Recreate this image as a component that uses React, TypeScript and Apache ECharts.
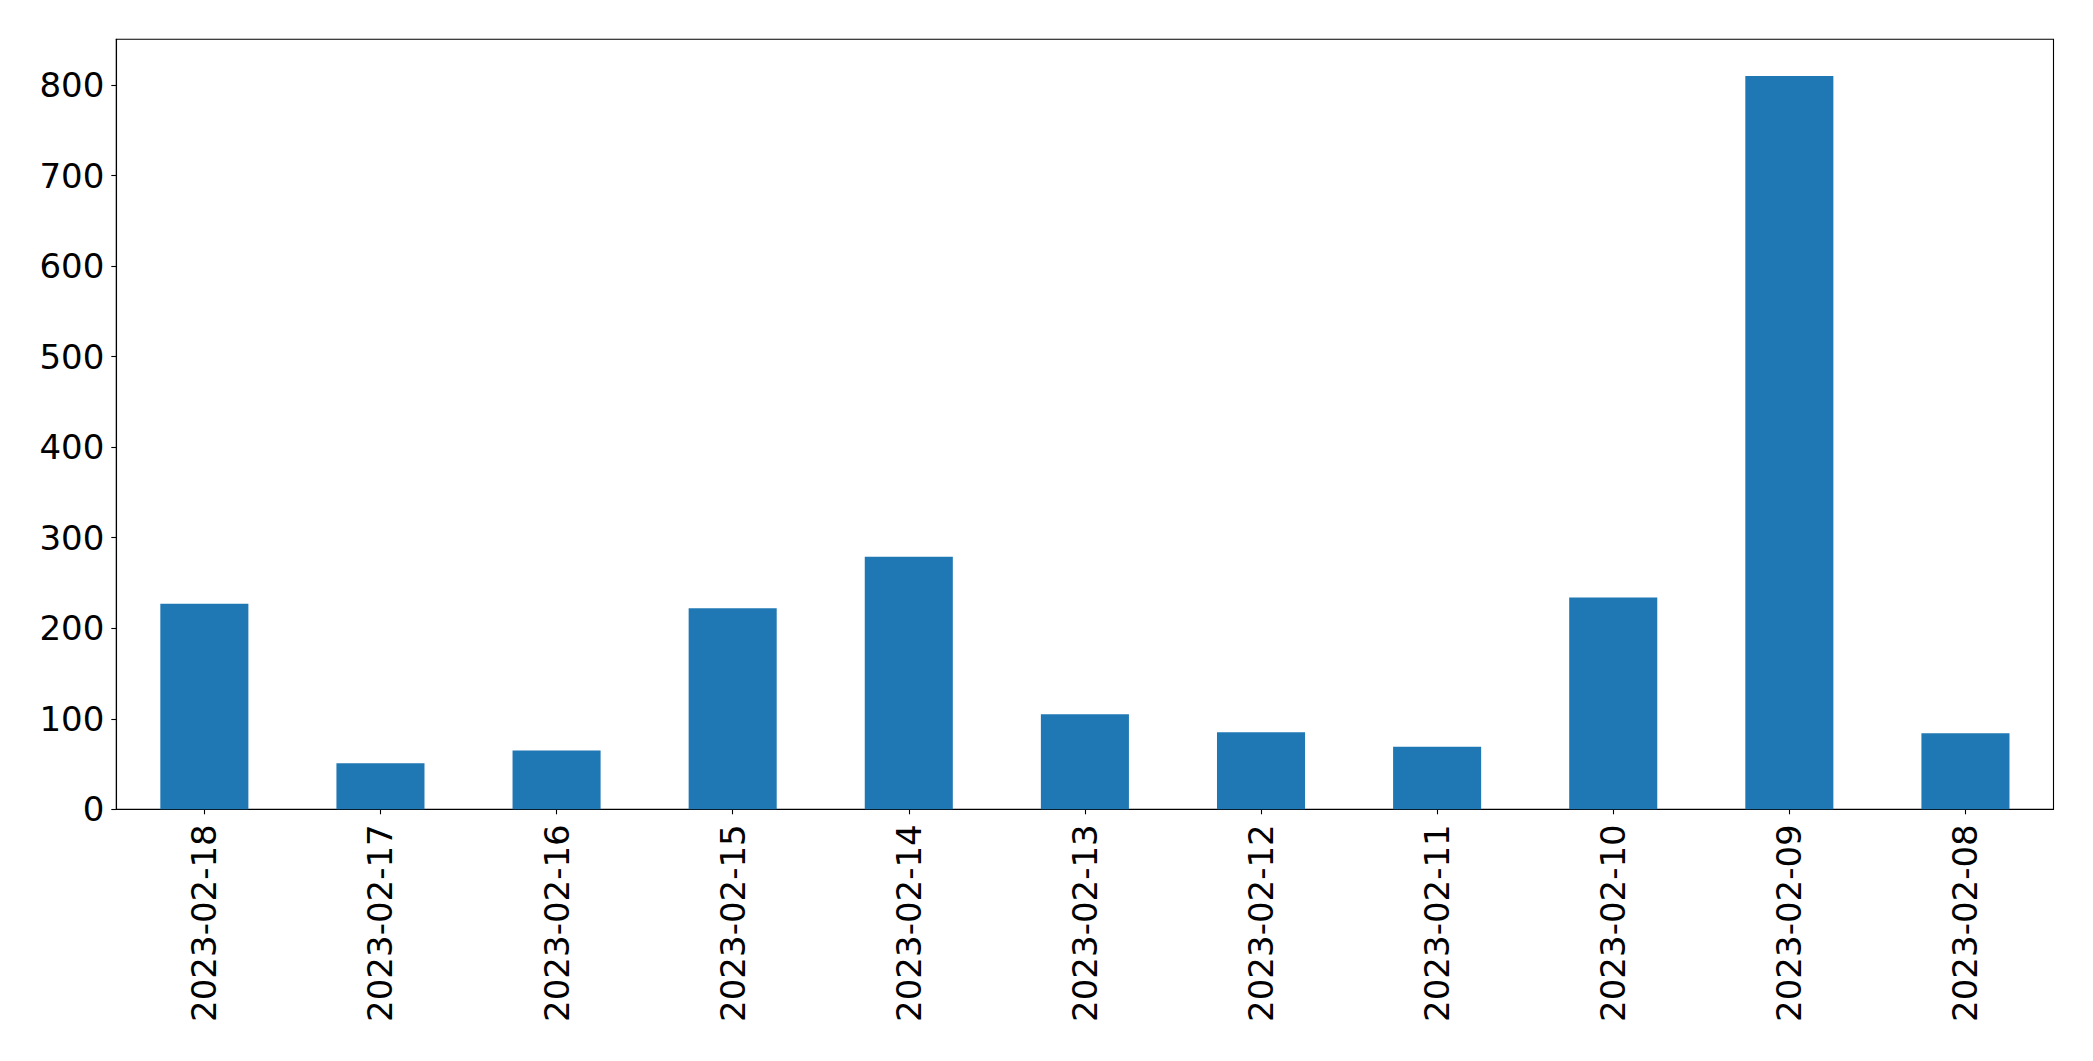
import React, { useEffect, useRef } from "react";
import * as echarts from "echarts";

const categories = [
  "2023-02-18", "2023-02-17", "2023-02-16", "2023-02-15", "2023-02-14", "2023-02-13",
  "2023-02-12", "2023-02-11", "2023-02-10", "2023-02-09", "2023-02-08",
];
const values = [227, 51, 65, 222, 279, 105, 85, 69, 234, 810, 84];
const yTicks = [0, 100, 200, 300, 400, 500, 600, 700, 800];
const yMax = 850.5;

export default function App() {
  const ref = useRef<HTMLDivElement>(null);
  useEffect(() => {
    if (!ref.current) return;
    const chart = echarts.init(ref.current, null, { renderer: "svg" });
    const font = "DejaVu Sans";
    chart.setOption({
      animation: false,
      backgroundColor: "#ffffff",
      grid: {
        left: 116.3,
        top: 39.3,
        right: 39.5,
        bottom: 251.7,
        show: true,
        borderColor: "#000000",
        borderWidth: 1.1,
        backgroundColor: "transparent",
      },
      xAxis: {
        type: "category",
        data: categories,
        boundaryGap: true,
        axisLine: { show: true, lineStyle: { color: "#000000", width: 1.1 } },
        axisTick: { show: true, alignWithLabel: true, length: 5, lineStyle: { color: "#000000", width: 1.1 } },
        axisLabel: {
          rotate: 90,
          margin: 15,
          color: "#000000",
          fontFamily: font,
          fontSize: 34,
          interval: 0,
        },
        splitLine: { show: false },
      },
      yAxis: {
        type: "value",
        min: 0,
        max: yMax,
        interval: 100,
        axisLine: { show: true, lineStyle: { color: "#000000", width: 1.1 } },
        axisTick: { show: true, length: 5, customValues: yTicks, lineStyle: { color: "#000000", width: 1.1 } },
        axisLabel: {
          customValues: yTicks,
          margin: 12,
          color: "#000000",
          fontFamily: font,
          fontSize: 34,
        },
        splitLine: { show: false },
      },
      series: [
        {
          type: "bar",
          data: values,
          barWidth: "50%",
          itemStyle: { color: "#1f77b4" },
        },
      ],
    });
    return () => chart.dispose();
  }, []);
  return (
    <div
      ref={ref}
      style={{ position: "fixed", left: 0, top: 0, width: 2093, height: 1061, background: "#fff" }}
    />
  );
}
